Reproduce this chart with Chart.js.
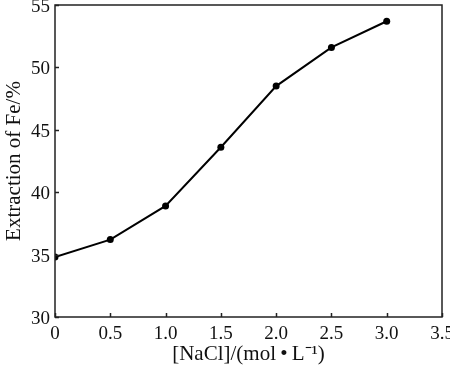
<!DOCTYPE html>
<html>
<head>
<meta charset="utf-8">
<script src="https://cdn.jsdelivr.net/npm/chart.js@4.4.1/dist/chart.umd.min.js"></script>
<style>
  html, body { margin: 0; padding: 0; background: #fff; }
  #wrap { width: 450px; height: 369px; }
</style>
</head>
<body>
<div id="wrap"><canvas id="chart" width="450" height="369"></canvas></div>
<script>
// Data
const nacl = [0, 0.5, 1.0, 1.5, 2.0, 2.5, 3.0];
const extraction = [34.8, 36.2, 38.9, 43.6, 48.5, 51.6, 53.7];
const xTicks = [0, 0.5, 1.0, 1.5, 2.0, 2.5, 3.0, 3.5];
const yTicks = [30, 35, 40, 45, 50, 55];

const FONT = 'Liberation Serif, Times New Roman, serif';

// frame + inward ticks
const framePlugin = {
    id: 'frame',
    afterDraw(chart) {
        const ctx = chart.ctx;
        const a = chart.chartArea;
        const xs = chart.scales.x, ys = chart.scales.y;
        ctx.save();
        ctx.strokeStyle = '#222';
        ctx.lineWidth = 1.5;
        ctx.strokeRect(a.left, a.top, a.right - a.left, a.bottom - a.top);
        ctx.beginPath();
        xTicks.forEach(v => {
            const px = Math.round(xs.getPixelForValue(v)) + 0.5;
            ctx.moveTo(px, a.bottom);
            ctx.lineTo(px, a.bottom - 4);
        });
        yTicks.forEach(v => {
            const py = Math.round(ys.getPixelForValue(v)) + 0.5;
            ctx.moveTo(a.left, py);
            ctx.lineTo(a.left + 4, py);
        });
        ctx.stroke();
        ctx.restore();
    }
};

new Chart(document.getElementById('chart'), {
    type: 'scatter',
    data: {
        datasets: [{
            data: nacl.map((x, i) => ({ x: x, y: extraction[i] })),
            showLine: true,
            borderColor: '#000',
            backgroundColor: '#000',
            borderWidth: 2,
            tension: 0,
            pointRadius: 3.5,
            pointBorderWidth: 0
        }]
    },
    options: {
        responsive: false,
        animation: false,
        layout: { padding: { top: 5, right: 8, left: 0, bottom: 0 } },
        plugins: { legend: { display: false }, tooltip: { enabled: false } },
        scales: {
            x: {
                type: 'linear',
                min: 0, max: 3.5,
                afterBuildTicks: s => { s.ticks = xTicks.map(v => ({ value: v })); },
                afterFit: s => { s.height = 52; s.paddingLeft = 0; s.paddingRight = 0; },
                grid: { display: false, drawTicks: false },
                border: { display: false },
                ticks: {
                    padding: 6,
                    color: '#111',
                    font: { family: FONT, size: 19 },
                    callback: v => (v === 0 ? '0' : v.toFixed(1))
                },
                title: {
                    display: true,
                    text: '[NaCl]/(mol\u2009\u2022\u2009L\u207B\u00B9)',
                    color: '#111',
                    font: { family: FONT, size: 21 },
                    padding: { top: 0, bottom: 2 }
                }
            },
            y: {
                min: 30, max: 55,
                afterBuildTicks: s => { s.ticks = yTicks.map(v => ({ value: v })); },
                afterFit: s => { s.width = 55; s.paddingTop = 0; s.paddingBottom = 0; },
                grid: { display: false, drawTicks: false },
                border: { display: false },
                ticks: {
                    padding: 5,
                    labelOffset: 2,
                    color: '#111',
                    font: { family: FONT, size: 19 }
                },
                title: {
                    display: true,
                    text: 'Extraction of Fe/%',
                    color: '#111',
                    font: { family: FONT, size: 21 },
                    padding: { top: 2, bottom: 0 }
                }
            }
        }
    },
    plugins: [framePlugin]
});
</script>
</body>
</html>
